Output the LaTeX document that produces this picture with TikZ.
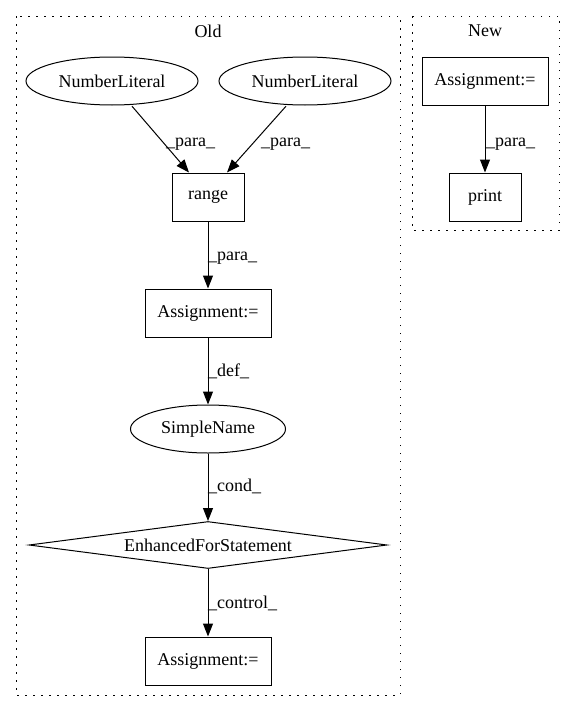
\documentclass[tikz,border=0pt]{standalone}
\usepackage{fontspec}
\setmainfont{Liberation Serif}
\usetikzlibrary{shapes.geometric,arrows.meta}
\begin{document}
\begin{tikzpicture}[x=1pt,y=-1pt,
  every node/.style={font=\fontsize{18}{21}\selectfont},
  ell/.style={draw, line width=1pt, ellipse, inner sep=0pt, minimum height=48pt},
  boxn/.style={draw, line width=1pt, rectangle, inner sep=0pt, minimum height=48pt},
  dia/.style={draw, line width=1pt, diamond, aspect=7.6, inner sep=0pt, minimum width=358pt, minimum height=47pt},
  lbl/.style={anchor=base west, inner sep=0pt},
  edge/.style={draw, line width=1pt, -{Triangle[length=13pt,width=10pt]}},
  cluster/.style={draw, line width=1pt, dash pattern=on 1.5pt off 6.5pt}
]
\useasboundingbox (0,0) rectangle (575,712);
\draw[cluster] (16,16) rectangle (400,695);
\draw[cluster] (412,16) rectangle (559,230);
\node (oldlbl) at (208,31) {Old};
\node (newlbl) at (485,31) {New};
\node[ell, minimum width=172pt] (nl1) at (112,81) {NumberLiteral};
\node[ell, minimum width=172pt] (nl2) at (305,81) {NumberLiteral};
\node[boxn, minimum width=72pt] (range) at (208,197) {range};
\node[boxn, minimum width=126pt] (asg1) at (208,313) {Assignment:=};
\node[ell, minimum width=155pt] (sn) at (208,429) {SimpleName};
\node[dia] (efs) at (208,545) {EnhancedForStatement};
\node[boxn, minimum width=126pt] (asg2) at (208,661) {Assignment:=};
\node[boxn, minimum width=126pt] (asg3) at (485,81) {Assignment:=};
\node[boxn, minimum width=72pt] (print) at (485,197) {print};

\draw[edge] ([xshift=20pt,yshift=-0.7pt]nl1.south) -- ([xshift=-19pt]range.north);
\draw[edge] ([xshift=-19pt,yshift=-0.7pt]nl2.south) -- ([xshift=19pt]range.north);
\draw[edge] (range) -- (asg1);
\draw[edge] (asg1) -- (sn);
\draw[edge] (sn) -- (efs);
\draw[edge] (efs) -- (asg2);
\draw[edge] (asg3) -- (print);

\node[lbl] (l1) at (166,146.5) {\_para\_};
\node[lbl] (l2) at (261,146.5) {\_para\_};
\node[lbl] (l3) at (208,260) {\_para\_};
\node[lbl] (l4) at (208,376.5) {\_def\_};
\node[lbl] (l5) at (208,491.5) {\_cond\_};
\node[lbl] (l6) at (208,608) {\_control\_};
\node[lbl] (l7) at (486,146) {\_para\_};
\end{tikzpicture}
\end{document}
